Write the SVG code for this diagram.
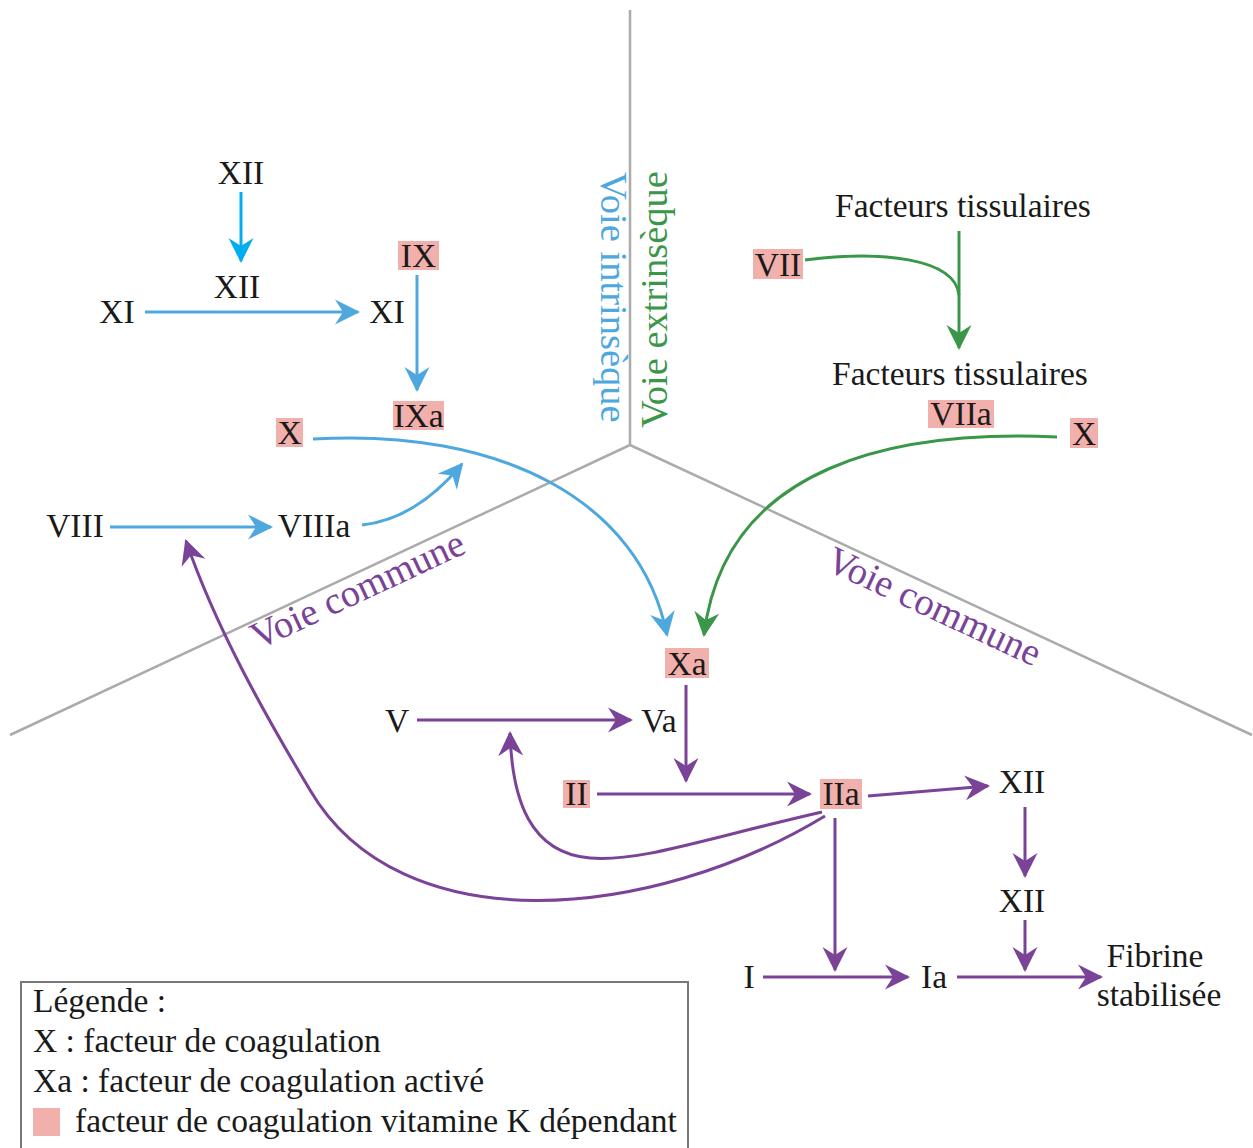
<svg xmlns="http://www.w3.org/2000/svg" width="1253" height="1148" viewBox="0 0 1253 1148">
<style>
.t{font-family:"Liberation Serif","Times New Roman",serif;font-size:33.5px;fill:#1a1a1a;text-anchor:middle}
.l{text-anchor:start}
.box{fill:#f2b0ad}
.ln{fill:none;stroke-width:3}
.cy{stroke:#00aeef}
.bl{stroke:#4ea8de}
.gr{stroke:#3a9648}
.pu{stroke:#7a4397}
.grid{stroke:#ababab;stroke-width:2.5;fill:none}
.v{font-family:"Liberation Serif","Times New Roman",serif;font-size:38.5px}
</style>
<defs>
<marker id="aCy" markerUnits="userSpaceOnUse" markerWidth="30" markerHeight="30" viewBox="-26 -15 30 30" refX="0" refY="0" orient="auto"><path d="M2,0 L-23,-12.5 L-15,0 L-23,12.5 Z" fill="#00aeef"/></marker>
<marker id="aBl" markerUnits="userSpaceOnUse" markerWidth="30" markerHeight="30" viewBox="-26 -15 30 30" refX="0" refY="0" orient="auto"><path d="M2,0 L-23,-12.5 L-15,0 L-23,12.5 Z" fill="#4ea8de"/></marker>
<marker id="aGr" markerUnits="userSpaceOnUse" markerWidth="30" markerHeight="30" viewBox="-26 -15 30 30" refX="0" refY="0" orient="auto"><path d="M2,0 L-23,-12.5 L-15,0 L-23,12.5 Z" fill="#3a9648"/></marker>
<marker id="aPu" markerUnits="userSpaceOnUse" markerWidth="30" markerHeight="30" viewBox="-26 -15 30 30" refX="0" refY="0" orient="auto"><path d="M2,0 L-23,-12.5 L-15,0 L-23,12.5 Z" fill="#7a4397"/></marker>
</defs>
<rect width="1253" height="1148" fill="#ffffff"/>

<g id="sections">
<path class="grid" d="M630,10 L630,445 M630,445 L10,735 M630,445 L1252,735"/>
<text class="v" fill="#4ea8de" transform="translate(601,172) rotate(90)">Voie intrinsèque</text>
<text class="v" fill="#3a9648" transform="translate(667,428) rotate(-90)">Voie extrinsèque</text>
<text class="v" fill="#7a4397" transform="translate(258,650) rotate(-25)">Voie commune</text>
<text class="v" fill="#7a4397" transform="translate(824,569) rotate(25)">Voie commune</text>
</g>

<g id="connectors">
<path class="ln cy" d="M241,192 L241,261" marker-end="url(#aCy)"/>
<path class="ln bl" d="M145,312 L358,312" marker-end="url(#aBl)"/>
<path class="ln bl" d="M417,275 L417,390" marker-end="url(#aBl)"/>
<path class="ln bl" d="M313,439 C500,428 640,500 667,635" marker-end="url(#aBl)"/>
<path class="ln bl" d="M110,527 L271,527" marker-end="url(#aBl)"/>
<path class="ln bl" d="M362,525 C400,521 432,500 462,464" marker-end="url(#aBl)"/>
<path class="ln gr" d="M805,260 C880,250 955,258 959,295"/>
<path class="ln gr" d="M959,231 L959,348" marker-end="url(#aGr)"/>
<path class="ln gr" d="M1057,437 C900,430 725,462 704,635" marker-end="url(#aGr)"/>
<path class="ln pu" d="M686,685 L686,781" marker-end="url(#aPu)"/>
<path class="ln pu" d="M417,720 L631,720" marker-end="url(#aPu)"/>
<path class="ln pu" d="M597,794 L810,794" marker-end="url(#aPu)"/>
<path class="ln pu" d="M868,796 L988,786" marker-end="url(#aPu)"/>
<path class="ln pu" d="M1025,807 L1025,876" marker-end="url(#aPu)"/>
<path class="ln pu" d="M1025,920 L1025,970" marker-end="url(#aPu)"/>
<path class="ln pu" d="M835,818 L835,970" marker-end="url(#aPu)"/>
<path class="ln pu" d="M763,977 L908,977" marker-end="url(#aPu)"/>
<path class="ln pu" d="M957,977 L1101,977" marker-end="url(#aPu)"/>
<path class="ln pu" d="M822,812 C700,840 640,862 590,858 C530,853 512,800 510,733" marker-end="url(#aPu)"/>
<path class="ln pu" d="M825,816 C650,922 400,944 310,790 C262,710 215,625 186,541" marker-end="url(#aPu)"/>
</g>

<g id="n-xii-top"><text class="t" x="241" y="184">XII</text></g>
<g id="n-xii-2"><text class="t" x="237" y="298">XII</text></g>
<g id="n-xi-1"><text class="t" x="117" y="323">XI</text></g>
<g id="n-xi-2"><text class="t" x="387" y="323">XI</text></g>
<g id="n-ix"><rect class="box" x="398" y="241" width="41" height="29"/><text class="t" x="418.5" y="267">IX</text></g>
<g id="n-ixa"><rect class="box" x="393" y="401" width="51" height="29"/><text class="t" x="418.5" y="427">IXa</text></g>
<g id="n-x-left"><rect class="box" x="276" y="418" width="27" height="29"/><text class="t" x="289.5" y="444">X</text></g>
<g id="n-viii"><text class="t" x="75" y="537">VIII</text></g>
<g id="n-viiia"><text class="t" x="314" y="537">VIIIa</text></g>
<g id="n-ft-1"><text class="t" x="963" y="217">Facteurs tissulaires</text></g>
<g id="n-vii"><rect class="box" x="753" y="249" width="50" height="30"/><text class="t" x="778" y="276">VII</text></g>
<g id="n-ft-2"><text class="t" x="960" y="385">Facteurs tissulaires</text></g>
<g id="n-viia"><rect class="box" x="928" y="400" width="66" height="28"/><text class="t" x="961" y="425">VIIa</text></g>
<g id="n-x-right"><rect class="box" x="1070" y="418" width="28" height="30"/><text class="t" x="1084" y="445">X</text></g>
<g id="n-xa"><rect class="box" x="665" y="648" width="44" height="30"/><text class="t" x="687" y="675">Xa</text></g>
<g id="n-v"><text class="t" x="397" y="732">V</text></g>
<g id="n-va"><text class="t" x="659" y="732">Va</text></g>
<g id="n-ii"><rect class="box" x="563" y="780" width="27" height="28"/><text class="t" x="576.5" y="805">II</text></g>
<g id="n-iia"><rect class="box" x="820" y="779" width="42" height="30"/><text class="t" x="841" y="805">IIa</text></g>
<g id="n-xii-r1"><text class="t" x="1022" y="793">XII</text></g>
<g id="n-xii-r2"><text class="t" x="1022" y="912">XII</text></g>
<g id="n-i"><text class="t" x="749" y="988">I</text></g>
<g id="n-ia"><text class="t" x="934" y="988">Ia</text></g>
<g id="n-fibrine"><text class="t" x="1155" y="967">Fibrine</text><text class="t" x="1159" y="1006">stabilisée</text></g>

<g id="legend">
<rect x="21" y="982" width="667" height="175" fill="none" stroke="#777777" stroke-width="2"/>
<text class="t l" x="33" y="1012">Légende :</text>
<text class="t l" x="33" y="1052">X : facteur de coagulation</text>
<text class="t l" x="33" y="1092">Xa : facteur de coagulation activé</text>
<rect class="box" x="33" y="1108" width="27" height="28"/>
<text class="t l" x="75" y="1132">facteur de coagulation vitamine K dépendant</text>
</g>
</svg>
